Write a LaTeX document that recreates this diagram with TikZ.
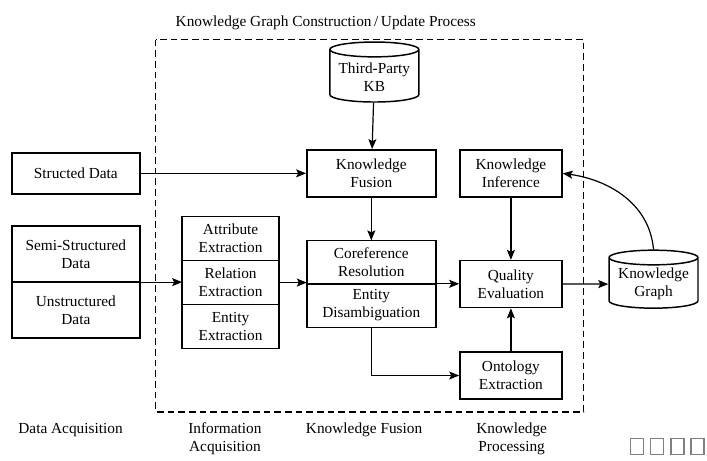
\documentclass[tikz,border=0pt]{standalone}
\usepackage{fontspec}
\setmainfont{Liberation Serif}
\usetikzlibrary{arrows.meta,positioning,shapes.geometric}

\begin{document}
\begin{tikzpicture}[>={Stealth[length=7.5pt,width=6pt,inset=1.5pt]},
	every node/.style={font=\fontsize{11.5}{13.5}\selectfont, align=center},
	box/.style={rectangle, draw, line width=1.1pt, inner sep=1pt},
	cell/.style={box, outer sep=0pt},
	db/.style={cylinder, shape border rotate=90, aspect=0.2, draw, line width=1.1pt, inner sep=1pt},
	link/.style={->, line width=0.9pt},
	tofu/.style={rectangle, draw=gray, line width=0.9pt, minimum width=9.75pt, minimum height=12pt, inner sep=0pt}]

\useasboundingbox (0,0) rectangle (18.64,-12.15);

\node (title) at (8.59,-0.61) {Knowledge Graph Construction\,/\,Update Process};
\draw[dash pattern=on 5pt off 3pt, line width=0.9pt] (4.11,-1.05) rectangle (15.39,-10.86);

\node[db, minimum width=66.75pt, minimum height=45pt] (kb) at (9.87,-2.03) {Third-Party\\KB};
\node[box, minimum width=96.75pt, minimum height=35.25pt] (fusion) at (9.79,-4.57) {Knowledge\\Fusion};
\node[box, minimum width=76.5pt, minimum height=35.25pt] (inference) at (13.47,-4.57) {Knowledge\\Inference};
\node[box, minimum width=96pt, minimum height=30.75pt] (structed) at (2.00,-4.57) {Structed Data};

\node[cell, minimum width=96pt, minimum height=42pt] (semi) at (2.00,-6.70) {Semi-Structured\\Data};
	\node[cell, minimum width=96pt, minimum height=42pt, below=0pt of semi] (unstructured) {Unstructured\\Data};

\node[cell, minimum width=72.75pt, minimum height=33pt] (relation) at (6.08,-7.45) {Relation\\Extraction};
	\node[cell, minimum width=72.75pt, minimum height=33pt, above=0pt of relation] (attribute) {Attribute\\Extraction};
	\node[cell, minimum width=72.75pt, minimum height=33pt, below=0pt of relation] (entity) {Entity\\Extraction};

\node[cell, minimum width=96.75pt, minimum height=32.6pt] (coref) at (9.79,-6.91) {Coreference\\Resolution};
	\node[cell, minimum width=96.75pt, minimum height=32.6pt, below=0pt of coref] (disamb) {Entity\\Disambiguation};

\node[box, minimum width=76.5pt, minimum height=35.25pt] (quality) at (13.47,-7.49) {Quality\\Evaluation};
\node[box, minimum width=76.5pt, minimum height=35.25pt] (ontology) at (13.47,-9.90) {Ontology\\Extraction};
\node[db, minimum width=66.75pt, minimum height=43.5pt] (kg) at (17.23,-7.49) {Knowledge\\Graph};

\node (dataacq) at (1.86,-11.33) {Data Acquisition};
\node (infoacq) at (5.93,-11.56) {Information\\Acquisition};
\node (fusionlbl) at (9.60,-11.33) {Knowledge Fusion};
\node (proclbl) at (13.49,-11.56) {Knowledge\\Processing};

\node[tofu] (tofu1) at (16.80,-11.78) {};
\node[tofu] (tofu2) at (17.33,-11.78) {};
\node[tofu] (tofu3) at (17.86,-11.78) {};
\node[tofu] (tofu4) at (18.39,-11.78) {};


\draw[link] (kb) -- (fusion);
\draw[link] (structed) -- (fusion);
\draw[link] (semi.south east) -- (semi.south east -| relation.west);
\draw[link] (relation.east) -- (relation.east -| coref.south west);
\draw[link] (fusion) -- (coref);
\draw[link] (coref.south east) -- (coref.south east -| quality.west);
\draw[link] (inference) -- (quality);
\draw[link] (ontology) -- (quality);
\draw[link] (disamb.south) |- (ontology.west);
\draw[link] (quality) -- (kg);
\draw[link] (kg.north) to[out=95,in=-8] (inference.east);


\end{tikzpicture}
\end{document}
